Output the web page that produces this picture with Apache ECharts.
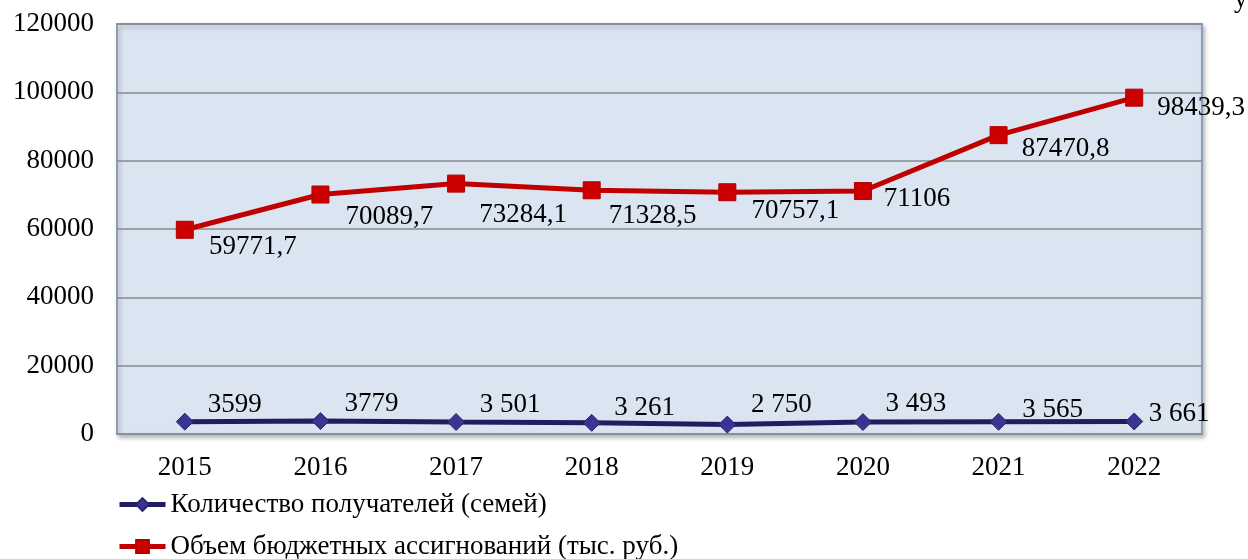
<!DOCTYPE html>
<html>
<head>
<meta charset="utf-8">
<script src="https://cdn.jsdelivr.net/npm/echarts@6/dist/echarts.min.js"></script>
<style>
html,body{margin:0;padding:0;background:#fff;}
#chart{width:1248px;height:559px;}
</style>
</head>
<body>
<div id="chart"></div>
<script>
const years = ['2015','2016','2017','2018','2019','2020','2021','2022'];
const recipients = [3599, 3779, 3501, 3261, 2750, 3493, 3565, 3661];
const recipientLabels = ['3599','3779','3 501','3 261','2 750','3 493','3 565','3 661'];
const budget = [59771.7, 70089.7, 73284.1, 71328.5, 70757.1, 71106, 87470.8, 98439.3];
const seriesNames = ['Количество получателей (семей)', 'Объем бюджетных ассигнований (тыс. руб.)'];
const yTicks = [0, 20000, 40000, 60000, 80000, 100000, 120000];

// label offsets (style only)
const blueOffsets = [[50,-17],[51,-17],[54,-17],[53,-15],[54,-20],[53,-18],[54,-12],[45,-8]];
const redOffsets = [[68,17],[69,22],[67,31],[61,26],[68,19],[54,8],[67,14],[67,10]];

const FONT = 'Liberation Serif';
const chart = echarts.init(document.getElementById('chart'));

chart.setOption({
  backgroundColor: '#ffffff',
  animation: false,
  textStyle: { fontFamily: FONT },
  grid: {
    left: 117, top: 24, width: 1085, bottom: 125,
    show: true,
    backgroundColor: '#dbe5f1',
    borderColor: '#8b9db9',
    borderWidth: 2,
    shadowColor: 'rgba(0,0,0,0.25)',
    shadowBlur: 4,
    shadowOffsetX: 2,
    shadowOffsetY: 3
  },
  graphic: [{
    type: 'text', left: 1234, top: -14,
    style: { text: 'у', fontSize: 27, fontFamily: FONT, fill: '#000' }
  }],
  legend: {
    orient: 'vertical',
    left: 117, top: 491, height: 120,
    padding: 0,
    itemWidth: 46, itemHeight: 16,
    itemGap: 15,
    lineStyle: { width: 5 },
    textStyle: { fontSize: 27, fontFamily: FONT, color: '#000', lineHeight: 27 },
    data: seriesNames
  },
  xAxis: {
    type: 'category',
    data: years,
    boundaryGap: true,
    axisLine: { show: false },
    axisTick: { show: false },
    axisLabel: { fontSize: 27, fontFamily: FONT, color: '#000', margin: 20 }
  },
  yAxis: {
    type: 'value',
    min: 0, max: 120000, interval: 20000,
    axisLine: { show: false },
    axisTick: { show: false },
    axisLabel: {
      fontSize: 27, fontFamily: FONT, color: '#000', margin: 23,
      formatter: v => yTicks.includes(v) ? String(v) : ''
    },
    splitLine: { show: true, lineStyle: { color: '#8a8a8a', width: 1.5 } }
  },
  series: [
    {
      name: seriesNames[0],
      type: 'line',
      data: recipients.map((v, i) => ({
        value: v,
        label: { offset: blueOffsets[i] }
      })),
      symbol: 'diamond',
      symbolSize: 17,
      lineStyle: { color: '#211d5e', width: 5 },
      itemStyle: { color: '#3a3592', borderColor: '#2a2670', borderWidth: 1 },
      label: {
        show: true, position: 'inside', color: '#000',
        fontSize: 27, fontFamily: FONT,
        formatter: p => recipientLabels[p.dataIndex]
      },
      z: 3
    },
    {
      name: seriesNames[1],
      type: 'line',
      data: budget.map((v, i) => ({
        value: v,
        label: { offset: redOffsets[i] }
      })),
      symbol: 'rect',
      symbolSize: 17,
      lineStyle: { color: '#c00000', width: 5 },
      itemStyle: { color: '#cc0000', borderColor: '#b00000', borderWidth: 1 },
      label: {
        show: true, position: 'inside', color: '#000',
        fontSize: 27, fontFamily: FONT,
        formatter: p => String(p.value).replace('.', ',')
      },
      z: 3
    }
  ]
});
</script>
</body>
</html>
